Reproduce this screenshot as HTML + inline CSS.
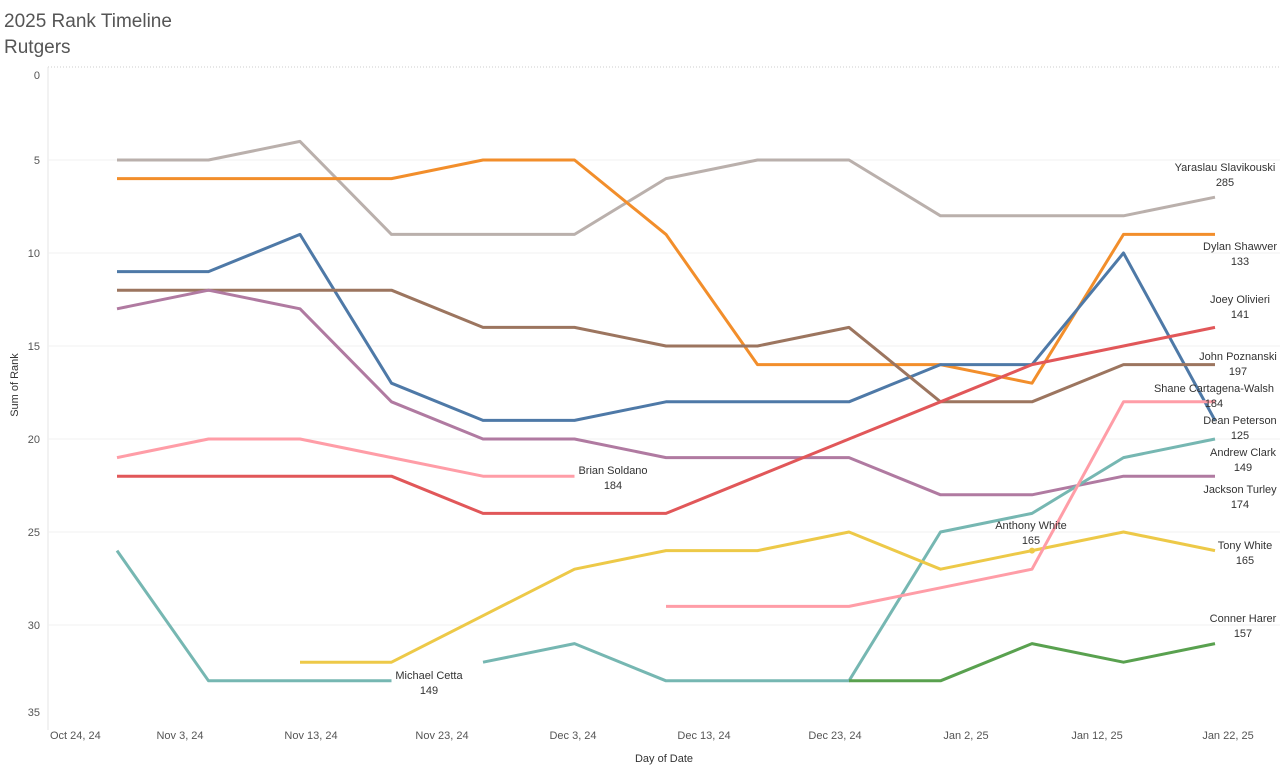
<!DOCTYPE html>
<html><head><meta charset="utf-8"><style>
body{margin:0;background:#fff;font-family:"Liberation Sans",sans-serif;}
svg text{font-family:"Liberation Sans",sans-serif;}
</style></head><body>
<svg id="chart" width="1280" height="772" xmlns="http://www.w3.org/2000/svg">
<text x="4" y="27" font-size="19" fill="#555">2025 Rank Timeline</text>
<text x="4" y="53" font-size="19" fill="#555">Rutgers</text>
<text transform="translate(18,385) rotate(-90)" text-anchor="middle" font-size="11" fill="#333">Sum of Rank</text>
<text x="664" y="762" text-anchor="middle" font-size="11" fill="#333">Day of Date</text>
<g id="grid"></g><g id="lines"></g><g id="labels"></g>
</svg>
<script>
const yTicks=[0,5,10,15,20,25,30,35];
const xTickLabels=["Oct 24, 24","Nov 3, 24","Nov 13, 24","Nov 23, 24","Dec 3, 24","Dec 13, 24","Dec 23, 24","Jan 2, 25","Jan 12, 25","Jan 22, 25"];
const seriesNames=["Yaraslau Slavikouski","Dylan Shawver","Dean Peterson","John Poznanski","Jackson Turley","Brian Soldano","Joey Olivieri","Michael Cetta","Andrew Clark","Tony White","Shane Cartagena-Walsh","Conner Harer"];
const seriesColors=["#bab0ac","#f28e2b","#4e79a7","#9c755f","#b07aa1","#ff9da7","#e15759","#76b7b2","#76b7b2","#edc948","#ff9da7","#59a14f"];
const sGray=[5,5,4,9,9,9,6,5,5,8,8,8,7];
const sOrange=[6,6,6,6,5,5,9,16,16,16,17,9,9];
const sBlue=[11,11,9,17,19,19,18,18,18,16,16,10,19];
const sBrown=[12,12,12,12,14,14,15,15,14,18,18,16,16];
const sPurple=[13,12,13,18,20,20,21,21,21,23,23,22,22];
const sPink1=[21,20,20,21,22,22,null,null,null,null,null,null,null];
const sRed=[22,22,22,22,24,24,24,22,20,18,16,15,14];
const sTeal1=[26,33,33,33,null,null,null,null,null,null,null,null,null];
const sTeal2=[null,null,null,null,32,31,33,33,33,25,24,21,20];
const sYellow=[null,null,32,32,29.5,27,26,26,25,27,26,25,26];
const sPink2=[null,null,null,null,null,null,29,29,29,28,27,18,18];
const sGreen=[null,null,null,null,null,null,null,null,33,33,31,32,31];
const allSeries=[sGray,sOrange,sBlue,sBrown,sPurple,sPink1,sRed,sTeal1,sTeal2,sYellow,sPink2,sGreen];
const totals=["285","133","125","197","174","184","141","149","149","165","184","157"];
const NS="http://www.w3.org/2000/svg";
const X=i=>117+i*91.5;
const Y=v=>67+v*18.6;
function mk(tag,attrs,parent,txt){const e=document.createElementNS(NS,tag);for(const k in attrs)e.setAttribute(k,attrs[k]);if(txt!==undefined)e.textContent=txt;parent.appendChild(e);return e;}
const grid=document.getElementById('grid'),lines=document.getElementById('lines'),labels=document.getElementById('labels');
mk('line',{x1:48,x2:1280,y1:67,y2:67,stroke:'#ccc','stroke-dasharray':'1,2'},grid);
mk('line',{x1:48,x2:48,y1:67,y2:730,stroke:'#e6e6e6'},grid);
yTicks.forEach(t=>{
 if(t>0&&t<35){const g=mk('line',{x1:48,x2:1280,y1:Y(t),y2:Y(t),stroke:'#f0f0f0'},grid);
 
 }
 const ty=t==0?Y(t)+12:(t==35?Y(t)-2:Y(t)+4);
 const tx=mk('text',{x:40,y:ty,'text-anchor':'end','font-size':11,fill:'#555'},grid,String(t));
 
 
});
xTickLabels.forEach((l,i)=>{
 const xx=i==0?50:180+(i-1)*131;
 const tx=mk('text',{x:xx,y:739,'text-anchor':i==0?'start':'middle','font-size':11,fill:'#555'},grid,l);
 
 
});
allSeries.forEach((s,k)=>{
 let d='',pen=false;
 s.forEach((v,i)=>{if(v===null){pen=false;return;}d+=(pen?'L':'M')+X(i)+','+Y(v);pen=true;});
 const p=mk('path',{d:d,fill:'none',stroke:seriesColors[k],'stroke-width':3,'stroke-linejoin':'round'},lines);
 
 
});
const dot=mk('circle',{cx:X(10),cy:Y(sYellow[10]),r:3,fill:'#edc948'},lines);


const lab=[[0,1225,171],[1,1240,250],[6,1240,303],[3,1238,360],[10,1214,392],[2,1240,424],[8,1243,456],[4,1240,493],[9,1245,549],[11,1243,622],[5,613,474],[7,429,679]];
lab.forEach(([k,x,y])=>{
 const t=mk('text',{x:x,y:y,'text-anchor':'middle','font-size':11,fill:'#333'},labels,seriesNames[k]);
 
 
 const n=mk('text',{x:x,y:y+15,'text-anchor':'middle','font-size':11,fill:'#333'},labels,totals[k]);
 
 
});
const aw=mk('text',{x:1031,y:529,'text-anchor':'middle','font-size':11,fill:'#333'},labels,'Anthony White');


const aw2=mk('text',{x:1031,y:544,'text-anchor':'middle','font-size':11,fill:'#333'},labels,'165');


</script>
</body></html>
